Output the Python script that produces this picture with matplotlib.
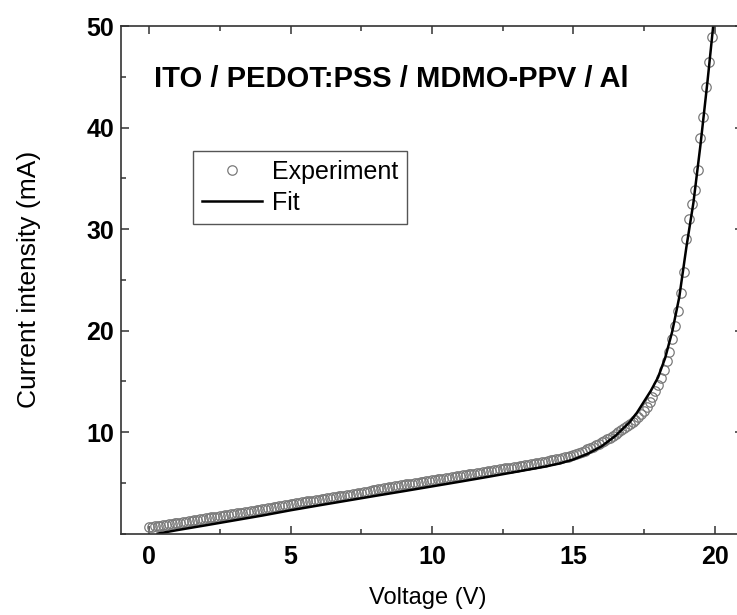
import matplotlib.pyplot as plt
import numpy as np
from matplotlib.ticker import MultipleLocator

plt.rcParams['font.family'] = ['Liberation Sans', 'DejaVu Sans']

# Experimental I-V data, 0.1 V steps from 0 to 19.9 V
exp_v = np.round(np.arange(0, 200) * 0.1, 1)
exp_i = [
    0.65, 0.68, 0.72, 0.76, 0.80, 0.85, 0.89, 0.93, 0.97, 1.01,
    1.05, 1.09, 1.14, 1.18, 1.23, 1.27, 1.32, 1.36, 1.41, 1.45,
    1.50, 1.54, 1.59, 1.63, 1.68, 1.72, 1.77, 1.81, 1.86, 1.90,
    1.95, 1.99, 2.04, 2.08, 2.13, 2.17, 2.22, 2.26, 2.31, 2.35,
    2.40, 2.45, 2.50, 2.55, 2.60, 2.65, 2.70, 2.75, 2.80, 2.85,
    2.90, 2.94, 2.99, 3.03, 3.08, 3.12, 3.17, 3.21, 3.26, 3.30,
    3.35, 3.39, 3.44, 3.48, 3.53, 3.57, 3.62, 3.66, 3.71, 3.75,
    3.80, 3.85, 3.90, 3.95, 4.00, 4.05, 4.10, 4.15, 4.20, 4.25,
    4.30, 4.35, 4.40, 4.45, 4.50, 4.55, 4.60, 4.65, 4.70, 4.75,
    4.80, 4.84, 4.89, 4.93, 4.98, 5.02, 5.07, 5.11, 5.16, 5.20,
    5.25, 5.29, 5.34, 5.38, 5.43, 5.47, 5.52, 5.56, 5.61, 5.65,
    5.70, 5.74, 5.79, 5.83, 5.88, 5.92, 5.97, 6.01, 6.06, 6.10,
    6.15, 6.19, 6.24, 6.28, 6.33, 6.37, 6.42, 6.46, 6.51, 6.55,
    6.60, 6.65, 6.70, 6.75, 6.80, 6.85, 6.90, 6.95, 7.00, 7.05,
    7.10, 7.16, 7.22, 7.28, 7.34, 7.40, 7.46, 7.52, 7.58, 7.65,
    7.75, 7.85, 7.95, 8.05, 8.15, 8.30, 8.40, 8.55, 8.70, 8.85,
    9.00, 9.15, 9.30, 9.40, 9.60, 9.80, 10.0, 10.2, 10.4, 10.6,
    10.8, 11.0, 11.2, 11.45, 11.75, 12.1, 12.5, 12.95, 13.5, 14.05,
    14.6, 15.3, 16.1, 17.0, 17.9, 19.2, 20.5, 21.9, 23.7, 25.8,
    29.0, 31.0, 32.5, 33.8, 35.8, 39.0, 41.0, 44.0, 46.5, 48.9,
]

# Fitted curve
fit_v = [0.3, 1, 2, 3, 4, 5, 6, 7, 8, 9, 10, 11, 12, 13, 14, 14.5, 15,
         15.5, 16, 16.5, 17, 17.25, 17.5, 17.75, 18, 18.25, 18.5, 18.75, 19,
         19.25, 19.5, 19.75, 19.95]
fit_i = [0.0, 0.35, 0.82, 1.3, 1.78, 2.3, 2.78, 3.25, 3.72, 4.18, 4.65, 5.12,
         5.6, 6.1, 6.6, 6.9, 7.3, 7.85, 8.6, 9.65, 11.0, 11.9, 13.0, 14.1,
         15.4, 17.3, 19.9, 23.3, 28.2, 32.6, 38.3, 44.6, 50.0]

x_ticks = [0, 5, 10, 15, 20]
y_ticks = [10, 20, 30, 40, 50]

fig = plt.figure(figsize=(7.37, 6.15), dpi=100)
ax = fig.add_axes([0.164, 0.1323, 0.844, 0.8254])

ax.plot(exp_v, exp_i, 'o', mfc='none', mec='#7a7a7a', mew=0.9, ms=6.8,
        label='Experiment')
ax.plot(fit_v, fit_i, '-', color='black', lw=1.8, label='Fit')

ax.set_xlim(-1, 21)
ax.set_ylim(0, 50)
ax.set_xticks(x_ticks)
ax.set_yticks(y_ticks)
ax.xaxis.set_minor_locator(MultipleLocator(2.5))
ax.yaxis.set_minor_locator(MultipleLocator(5))
ax.tick_params(which='both', direction='in', top=True, right=True,
               color='#333333', width=1.1)
ax.tick_params(which='major', length=6, labelsize=18)
ax.tick_params(which='minor', length=3.5)
for lab in ax.get_xticklabels() + ax.get_yticklabels():
    lab.set_fontweight('bold')
ax.tick_params(axis='x', pad=8)
ax.tick_params(axis='y', pad=5)
for sp in ax.spines.values():
    sp.set_color('#333333')
    sp.set_linewidth(1.2)

ax.set_xlabel('Voltage (V)', fontsize=17)
ax.set_ylabel('Current intensity (mA)', fontsize=19)
ax.xaxis.set_label_coords(0.494, -0.105)
ax.yaxis.set_label_coords(-0.128, 0.5)

ax.text(0.053, 0.8956, 'ITO / PEDOT:PSS / MDMO-PPV / Al', transform=ax.transAxes,
        fontsize=21, fontweight='bold', ha='left', va='center')

leg = ax.legend(loc='upper left', bbox_to_anchor=(0.262, 0.7545),
                bbox_transform=fig.transFigure, borderaxespad=0,
                fontsize=18, numpoints=1, handlelength=2.4,
                handletextpad=0.4, labelspacing=0.3, borderpad=0.35,
                fancybox=False, framealpha=1)
leg.get_frame().set_edgecolor('#555555')
leg.get_frame().set_linewidth(1.0)

fig.savefig('out.png', dpi=100)
